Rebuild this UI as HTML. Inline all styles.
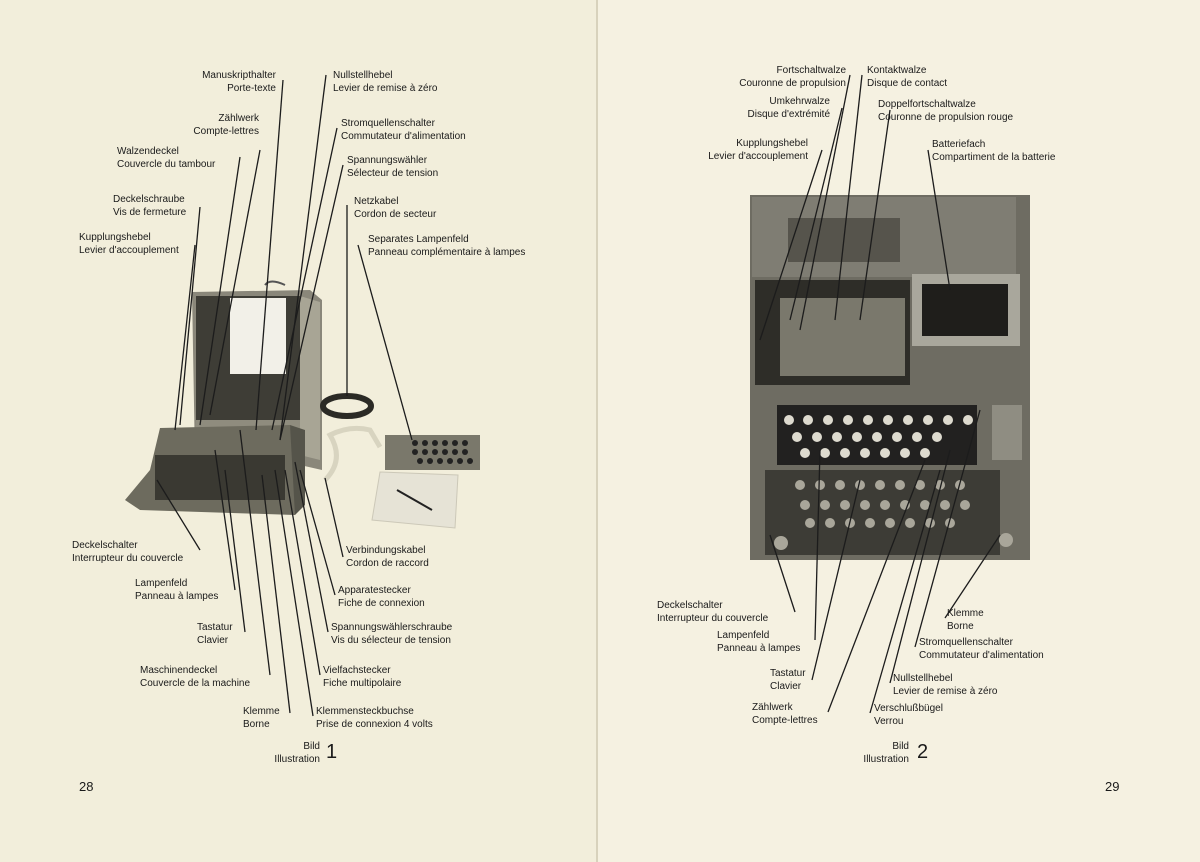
<!DOCTYPE html>
<html><head><meta charset="utf-8"><style>
body{margin:0;width:1200px;height:862px;background:#f3efdc;position:relative;overflow:hidden;font-family:"Liberation Sans",sans-serif;color:#1a1a1a}
.t{position:absolute;font-size:10px;line-height:13px;white-space:nowrap}
.r{text-align:right}
svg{position:absolute;left:0;top:0}
</style></head><body>
<svg width="1200" height="862">
<rect x="0" y="0" width="597" height="862" fill="#f2eedb"/>
<rect x="597" y="0" width="603" height="862" fill="#f5f1e1"/>
<line x1="597" y1="0" x2="597" y2="862" stroke="#d8d2bc" stroke-width="2"/>
<!-- left machine -->
<path d="M265,285 Q270,278 285,285" stroke="#555" fill="none" stroke-width="2"/>
<polygon points="192,292 310,290 322,300 322,470 300,465 195,460" fill="#8a877a"/>
<polygon points="196,296 300,296 300,420 196,420" fill="#3e3d36"/>
<polygon points="300,296 320,302 320,460 300,455" fill="#a8a595"/>
<rect x="230" y="298" width="56" height="76" fill="#f2f0e8"/>
<polygon points="196,420 300,420 300,455 196,455" fill="#8f8c7e"/>
<polygon points="160,428 290,425 300,500 295,515 140,510 125,500 150,470" fill="#6d6b5e"/>
<rect x="155" y="455" width="130" height="45" fill="#3a3932"/>
<polygon points="290,425 305,430 305,505 295,515" fill="#55544a"/>
<ellipse cx="347" cy="406" rx="24" ry="10" fill="none" stroke="#2b2a25" stroke-width="6"/>
<path d="M325,480 Q345,460 330,435 Q350,425 370,430 L380,447" stroke="#d8d4c0" stroke-width="5" fill="none"/>
<polygon points="385,435 480,435 480,470 385,470" fill="#7a786b"/>
<g fill="#222"><circle cx="415" cy="443" r="3"/><circle cx="425" cy="443" r="3"/><circle cx="435" cy="443" r="3"/><circle cx="445" cy="443" r="3"/><circle cx="455" cy="443" r="3"/><circle cx="465" cy="443" r="3"/><circle cx="415" cy="452" r="3"/><circle cx="425" cy="452" r="3"/><circle cx="435" cy="452" r="3"/><circle cx="445" cy="452" r="3"/><circle cx="455" cy="452" r="3"/><circle cx="465" cy="452" r="3"/><circle cx="420" cy="461" r="3"/><circle cx="430" cy="461" r="3"/><circle cx="440" cy="461" r="3"/><circle cx="450" cy="461" r="3"/><circle cx="460" cy="461" r="3"/><circle cx="470" cy="461" r="3"/></g>
<polygon points="380,472 458,475 455,528 372,520" fill="#e6e3d6" stroke="#ccc8b8"/>
<line x1="397" y1="490" x2="432" y2="510" stroke="#222" stroke-width="2"/>
<!-- right machine -->
<rect x="750" y="195" width="280" height="365" fill="#6e6c62"/>
<rect x="752" y="197" width="264" height="80" fill="#7f7d73"/>
<rect x="788" y="218" width="112" height="44" fill="#56544c"/>
<rect x="755" y="280" width="155" height="105" fill="#2e2d28"/>
<rect x="780" y="298" width="125" height="78" fill="#7a786c"/>
<rect x="912" y="274" width="108" height="72" fill="#a9a79c"/>
<rect x="922" y="284" width="86" height="52" fill="#1f1e1b"/>
<rect x="777" y="405" width="200" height="60" fill="#222120"/>
<rect x="765" y="470" width="235" height="85" fill="#3d3c36"/>
<g fill="#dedbcf">
<circle cx="789" cy="420" r="5"/><circle cx="808" cy="420" r="5"/><circle cx="828" cy="420" r="5"/><circle cx="848" cy="420" r="5"/><circle cx="868" cy="420" r="5"/><circle cx="888" cy="420" r="5"/><circle cx="908" cy="420" r="5"/><circle cx="928" cy="420" r="5"/><circle cx="948" cy="420" r="5"/><circle cx="968" cy="420" r="5"/>
<circle cx="797" cy="437" r="5"/><circle cx="817" cy="437" r="5"/><circle cx="837" cy="437" r="5"/><circle cx="857" cy="437" r="5"/><circle cx="877" cy="437" r="5"/><circle cx="897" cy="437" r="5"/><circle cx="917" cy="437" r="5"/><circle cx="937" cy="437" r="5"/>
<circle cx="805" cy="453" r="5"/><circle cx="825" cy="453" r="5"/><circle cx="845" cy="453" r="5"/><circle cx="865" cy="453" r="5"/><circle cx="885" cy="453" r="5"/><circle cx="905" cy="453" r="5"/><circle cx="925" cy="453" r="5"/>
</g>
<g fill="#a9a69a">
<circle cx="800" cy="485" r="5"/><circle cx="820" cy="485" r="5"/><circle cx="840" cy="485" r="5"/><circle cx="860" cy="485" r="5"/><circle cx="880" cy="485" r="5"/><circle cx="900" cy="485" r="5"/><circle cx="920" cy="485" r="5"/><circle cx="940" cy="485" r="5"/><circle cx="960" cy="485" r="5"/>
<circle cx="805" cy="505" r="5"/><circle cx="825" cy="505" r="5"/><circle cx="845" cy="505" r="5"/><circle cx="865" cy="505" r="5"/><circle cx="885" cy="505" r="5"/><circle cx="905" cy="505" r="5"/><circle cx="925" cy="505" r="5"/><circle cx="945" cy="505" r="5"/><circle cx="965" cy="505" r="5"/>
<circle cx="810" cy="523" r="5"/><circle cx="830" cy="523" r="5"/><circle cx="850" cy="523" r="5"/><circle cx="870" cy="523" r="5"/><circle cx="890" cy="523" r="5"/><circle cx="910" cy="523" r="5"/><circle cx="930" cy="523" r="5"/><circle cx="950" cy="523" r="5"/>
<circle cx="781" cy="543" r="7"/><circle cx="1006" cy="540" r="7"/>
</g>
<rect x="992" y="405" width="30" height="55" fill="#8f8d82"/>
<!-- leader lines -->
<g stroke="#1c1c1c" stroke-width="1.3" fill="none">
<line x1="283" y1="80" x2="256" y2="430"/>
<line x1="260" y1="150" x2="210" y2="415"/>
<line x1="240" y1="157" x2="200" y2="425"/>
<line x1="200" y1="207" x2="180" y2="425"/>
<line x1="195" y1="245" x2="175" y2="430"/>
<line x1="326" y1="75" x2="280" y2="440"/>
<line x1="337" y1="128" x2="272" y2="430"/>
<line x1="343" y1="165" x2="280" y2="440"/>
<line x1="347" y1="205" x2="347" y2="396"/>
<line x1="358" y1="245" x2="412" y2="440"/>
<line x1="200" y1="550" x2="157" y2="480"/>
<line x1="235" y1="590" x2="215" y2="450"/>
<line x1="245" y1="632" x2="225" y2="470"/>
<line x1="270" y1="675" x2="240" y2="430"/>
<line x1="290" y1="713" x2="262" y2="475"/>
<line x1="343" y1="557" x2="325" y2="478"/>
<line x1="335" y1="595" x2="300" y2="470"/>
<line x1="328" y1="632" x2="295" y2="462"/>
<line x1="320" y1="675" x2="285" y2="470"/>
<line x1="313" y1="716" x2="275" y2="470"/>
<line x1="850" y1="75" x2="800" y2="330"/>
<line x1="842" y1="108" x2="790" y2="320"/>
<line x1="822" y1="150" x2="760" y2="340"/>
<line x1="862" y1="75" x2="835" y2="320"/>
<line x1="890" y1="110" x2="860" y2="320"/>
<line x1="928" y1="150" x2="950" y2="290"/>
<line x1="795" y1="612" x2="770" y2="535"/>
<line x1="815" y1="640" x2="820" y2="450"/>
<line x1="812" y1="680" x2="860" y2="480"/>
<line x1="828" y1="712" x2="925" y2="460"/>
<line x1="945" y1="618" x2="1000" y2="535"/>
<line x1="915" y1="647" x2="980" y2="410"/>
<line x1="890" y1="683" x2="950" y2="450"/>
<line x1="870" y1="713" x2="940" y2="470"/>
</g>
</svg>
<div class="t r" style="right:924px;top:69px">Manuskripthalter<br>Porte-texte</div>
<div class="t r" style="right:941px;top:112px">Zählwerk<br>Compte-lettres</div>
<div class="t" style="left:117px;top:145px">Walzendeckel<br>Couvercle du tambour</div>
<div class="t" style="left:113px;top:193px">Deckelschraube<br>Vis de fermeture</div>
<div class="t" style="left:79px;top:231px">Kupplungshebel<br>Levier d'accouplement</div>
<div class="t" style="left:333px;top:69px">Nullstellhebel<br>Levier de remise à zéro</div>
<div class="t" style="left:341px;top:117px">Stromquellenschalter<br>Commutateur d'alimentation</div>
<div class="t" style="left:347px;top:154px">Spannungswähler<br>Sélecteur de tension</div>
<div class="t" style="left:354px;top:195px">Netzkabel<br>Cordon de secteur</div>
<div class="t" style="left:368px;top:233px">Separates Lampenfeld<br>Panneau complémentaire à lampes</div>
<div class="t" style="left:72px;top:539px">Deckelschalter<br>Interrupteur du couvercle</div>
<div class="t" style="left:135px;top:577px">Lampenfeld<br>Panneau à lampes</div>
<div class="t" style="left:197px;top:621px">Tastatur<br>Clavier</div>
<div class="t" style="left:140px;top:664px">Maschinendeckel<br>Couvercle de la machine</div>
<div class="t" style="left:243px;top:705px">Klemme<br>Borne</div>
<div class="t" style="left:346px;top:544px">Verbindungskabel<br>Cordon de raccord</div>
<div class="t" style="left:338px;top:584px">Apparatestecker<br>Fiche de connexion</div>
<div class="t" style="left:331px;top:621px">Spannungswählerschraube<br>Vis du sélecteur de tension</div>
<div class="t" style="left:323px;top:664px">Vielfachstecker<br>Fiche multipolaire</div>
<div class="t" style="left:316px;top:705px">Klemmensteckbuchse<br>Prise de connexion 4 volts</div>
<div class="t r" style="right:880px;top:740px">Bild<br>Illustration</div>
<div class="t" style="left:326px;top:740px;font-size:20px;line-height:24px">1</div>
<div class="t" style="left:79px;top:780px;font-size:13px">28</div>
<div class="t r" style="right:354px;top:64px">Fortschaltwalze<br>Couronne de propulsion</div>
<div class="t r" style="right:370px;top:95px">Umkehrwalze<br>Disque d'extrémité</div>
<div class="t r" style="right:392px;top:137px">Kupplungshebel<br>Levier d'accouplement</div>
<div class="t" style="left:867px;top:64px">Kontaktwalze<br>Disque de contact</div>
<div class="t" style="left:878px;top:98px">Doppelfortschaltwalze<br>Couronne de propulsion rouge</div>
<div class="t" style="left:932px;top:138px">Batteriefach<br>Compartiment de la batterie</div>
<div class="t" style="left:657px;top:599px">Deckelschalter<br>Interrupteur du couvercle</div>
<div class="t" style="left:717px;top:629px">Lampenfeld<br>Panneau à lampes</div>
<div class="t" style="left:770px;top:667px">Tastatur<br>Clavier</div>
<div class="t" style="left:752px;top:701px">Zählwerk<br>Compte-lettres</div>
<div class="t" style="left:947px;top:607px">Klemme<br>Borne</div>
<div class="t" style="left:919px;top:636px">Stromquellenschalter<br>Commutateur d'alimentation</div>
<div class="t" style="left:893px;top:672px">Nullstellhebel<br>Levier de remise à zéro</div>
<div class="t" style="left:874px;top:702px">Verschlußbügel<br>Verrou</div>
<div class="t r" style="right:291px;top:740px">Bild<br>Illustration</div>
<div class="t" style="left:917px;top:740px;font-size:20px;line-height:24px">2</div>
<div class="t" style="left:1105px;top:780px;font-size:13px">29</div>
</body></html>
